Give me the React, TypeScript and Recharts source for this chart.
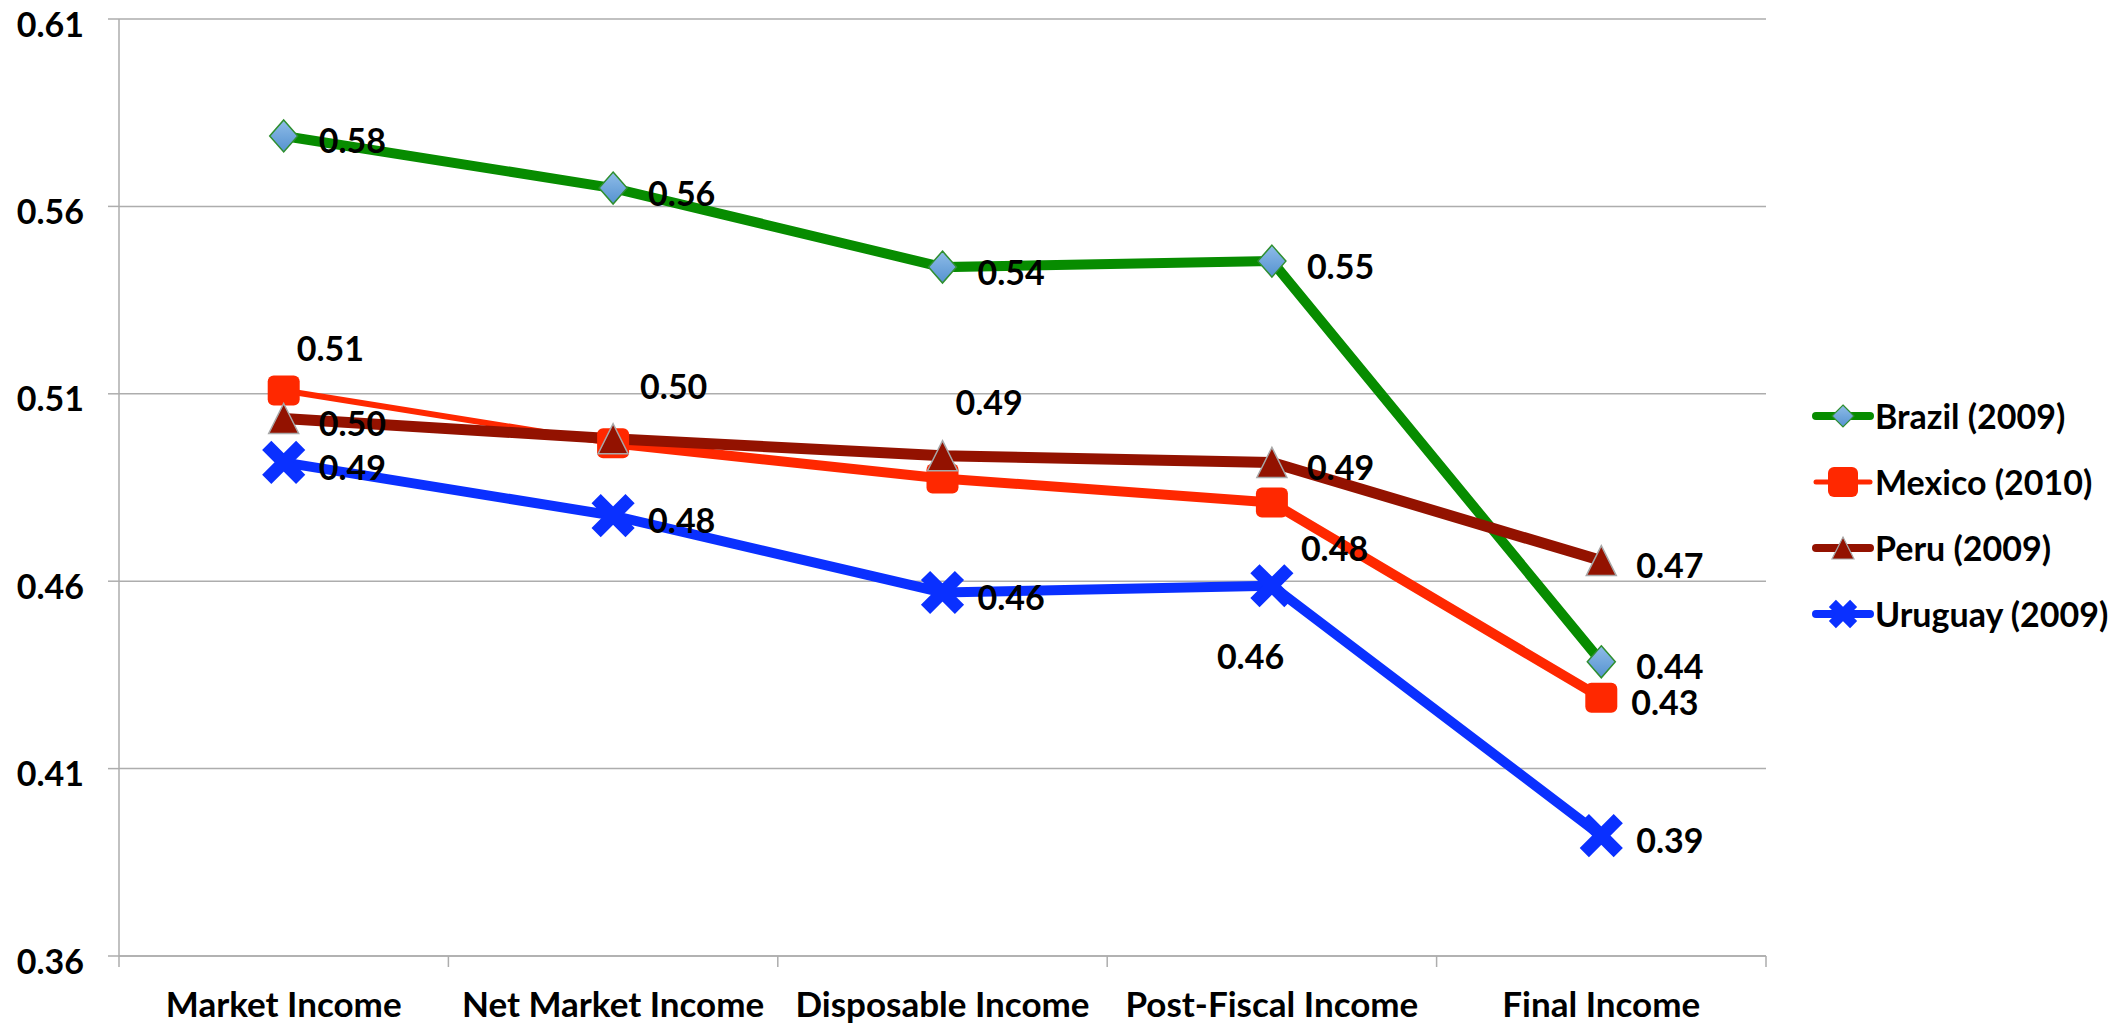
import React from 'react';
import { LineChart, Line, XAxis, YAxis, CartesianGrid, LabelList } from 'recharts';

// ---------- data ----------
const categories = ['Market Income', 'Net Market Income', 'Disposable Income', 'Post-Fiscal Income', 'Final Income'];
const brazil = [0.5788, 0.5649, 0.5438, 0.5454, 0.4385];
const mexico = [0.5109, 0.4968, 0.4874, 0.481, 0.4289];
const peru = [0.5034, 0.498, 0.4935, 0.4917, 0.4655];
const uruguay = [0.4917, 0.4775, 0.457, 0.4588, 0.3921];
const yTicks = [0.36, 0.41, 0.46, 0.51, 0.56, 0.61];
const seriesNames = ['Brazil (2009)', 'Mexico (2010)', 'Peru (2009)', 'Uruguay (2009)'];

// label placement per point (style only)
const brazilLabelPos = ['right', 'right', 'right', 'right', 'right'];
const mexicoLabelPos = ['aboveNear', 'aboveMid', 'aboveFar', 'belowRight', 'rightClose'];
const peruLabelPos = ['right', 'none', 'none', 'right', 'right'];
const uruguayLabelPos = ['right', 'right', 'right', 'belowLeft', 'right'];

// ---------- styles ----------
const W = 2126;
const H = 1025;
const M_TOP = 19;
const M_RIGHT = 360;
const Y_W = 119;
const X_H = 69;
const PLOT_W = W - M_RIGHT - Y_W;
const FONT = 'Lato, "Open Sans", sans-serif';
const GRID = '#ADADAD';
const GREEN = '#078C00';
const RED = '#FF2800';
const DARKRED = '#931200';
const BLUE = '#0A30FF';
const FS = 34;

const OFFSETS: Record<string, [number, number]> = {
  right: [35, 4],
  rightClose: [30, 4],
  aboveNear: [13, -43],
  aboveMid: [27, -58],
  aboveFar: [13, -77],
  belowRight: [29, 45],
  belowLeft: [-55, 70],
};

const data = categories.map((c, i) => ({
  category: c,
  brazil: brazil[i],
  mexico: mexico[i],
  mexicoThick: i >= 1 ? mexico[i] : null,
  peru: peru[i],
  uruguay: uruguay[i],
}));

const makeLabel = (placements: string[]) => (props: any) => {
  const { x, y, value, index } = props;
  const p = placements[index];
  if (!p || p === 'none' || value == null) return null;
  const [dx, dy] = OFFSETS[p];
  return (
    <text
      key={`lbl-${index}`}
      x={Number(x) + dx}
      y={Number(y) + dy}
      dominantBaseline="central"
      textAnchor="start"
      fontFamily={FONT}
      fontWeight={700}
      fontSize={FS}
      fill="#000"
    >
      {Number(value).toFixed(2)}
    </text>
  );
};

const diamondPath = (cx: number, cy: number, hw: number, hh: number) =>
  `M${cx},${cy - hh} L${cx + hw},${cy} L${cx},${cy + hh} L${cx - hw},${cy} Z`;
const trianglePath = (cx: number, cy: number, hw: number, hh: number) =>
  `M${cx},${cy - hh} L${cx + hw},${cy + hh} L${cx - hw},${cy + hh} Z`;
const xPath = (cx: number, cy: number, r: number, t: number) => {
  const pts: string[] = [];
  const arm = (ang: number) => {
    const ca = Math.cos(ang), sa = Math.sin(ang);
    const px = -sa * t, py = ca * t;
    return [
      [cx + ca * r + px, cy + sa * r + py],
      [cx + ca * r - px, cy + sa * r - py],
      [cx - ca * r - px, cy - sa * r - py],
      [cx - ca * r + px, cy - sa * r + py],
    ];
  };
  [Math.PI / 4, -Math.PI / 4].forEach((a) => {
    const q = arm(a);
    pts.push(`M${q[0][0]},${q[0][1]} L${q[1][0]},${q[1][1]} L${q[2][0]},${q[2][1]} L${q[3][0]},${q[3][1]} Z`);
  });
  return pts.join(' ');
};

const DiamondDot = (props: any) => {
  const { cx, cy, index } = props;
  if (cx == null || cy == null) return <g key={`d-${index}`} />;
  return (
    <path key={`d-${index}`} d={diamondPath(cx, cy, 14, 16)} fill="url(#diamondFill)" stroke="#2F8F2F" strokeWidth={1.5} />
  );
};
const SquareDot = (props: any) => {
  const { cx, cy, index } = props;
  if (cx == null || cy == null) return <g key={`s-${index}`} />;
  return <rect key={`s-${index}`} x={cx - 16} y={cy - 15} width={32} height={30} rx={6} ry={6} fill={RED} />;
};
const TriangleDot = (props: any) => {
  const { cx, cy, index } = props;
  if (cx == null || cy == null) return <g key={`t-${index}`} />;
  return <path key={`t-${index}`} d={trianglePath(cx, cy, 15, 15)} fill={DARKRED} stroke="#A8A8A8" strokeWidth={1.5} />;
};
const XDot = (props: any) => {
  const { cx, cy, index } = props;
  if (cx == null || cy == null) return <g key={`x-${index}`} />;
  return <path key={`x-${index}`} d={xPath(cx, cy, 24, 6.5)} fill={BLUE} />;
};

const XTick = (props: any) => {
  const { x, y, payload, index } = props;
  const half = PLOT_W / categories.length / 2;
  const isLast = payload && payload.value === categories[categories.length - 1];
  return (
    <g key={`xt-${index}`}>
      <line x1={x - half} x2={x - half} y1={y} y2={y + 11} stroke={GRID} strokeWidth={1.5} />
      {isLast && <line x1={x + half} x2={x + half} y1={y} y2={y + 11} stroke={GRID} strokeWidth={1.5} />}
      <text
        x={x}
        y={y + 47}
        textAnchor="middle"
        dominantBaseline="central"
        fontFamily={FONT}
        fontWeight={700}
        fontSize={35}
        fill="#000"
      >
        {payload.value}
      </text>
    </g>
  );
};

const YTick = (props: any) => {
  const { x, y, payload, index } = props;
  return (
    <text
      key={`yt-${index}`}
      x={x}
      y={y + 4}
      textAnchor="end"
      dominantBaseline="central"
      fontFamily={FONT}
      fontWeight={700}
      fontSize={FS}
      fill="#000"
    >
      {Number(payload.value).toFixed(2)}
    </text>
  );
};

const legendColors = [GREEN, RED, DARKRED, BLUE];
const LegendIcon = ({ i }: { i: number }) => {
  const c = legendColors[i];
  const cy = 20;
  const cx = 31;
  return (
    <svg width={62} height={40} style={{ display: 'block', overflow: 'visible' }}>
      <defs>
        <linearGradient id={`lgDiamond${i}`} x1="0" y1="0" x2="0" y2="1">
          <stop offset="0%" stopColor="#8FBCE8" />
          <stop offset="100%" stopColor="#5592D0" />
        </linearGradient>
      </defs>
      <line x1={4} x2={58} y1={cy} y2={cy} stroke={c} strokeWidth={i === 1 ? 5 : 8} strokeLinecap="round" />
      {i === 0 && <path d={diamondPath(cx, cy, 11, 11)} fill={`url(#lgDiamond${i})`} stroke="#2F8F2F" strokeWidth={1.2} />}
      {i === 1 && <rect x={cx - 15} y={cy - 15} width={30} height={30} rx={6} fill={RED} />}
      {i === 2 && <path d={trianglePath(cx, cy, 11, 11)} fill={DARKRED} stroke="#A8A8A8" strokeWidth={1.2} />}
      {i === 3 && <path d={xPath(cx, cy, 15, 5)} fill={BLUE} />}
    </svg>
  );
};

export default function App() {
  return (
    <div style={{ position: 'absolute', left: 0, top: 0, width: W, height: H, background: '#fff' }}>
      <LineChart
        width={W}
        height={H}
        data={data}
        margin={{ top: M_TOP, right: M_RIGHT, left: 0, bottom: 0 }}
      >
        <defs>
          <linearGradient id="diamondFill" x1="0" y1="0" x2="0" y2="1">
            <stop offset="0%" stopColor="#8FBCE8" />
            <stop offset="100%" stopColor="#5592D0" />
          </linearGradient>
        </defs>
        <CartesianGrid vertical={false} stroke={GRID} strokeWidth={1.5} />
        <XAxis
          dataKey="category"
          height={X_H}
          padding={{ left: PLOT_W / categories.length / 2, right: PLOT_W / categories.length / 2 }}
          axisLine={{ stroke: GRID, strokeWidth: 1.5 }}
          tickLine={false}
          tickSize={0}
          tickMargin={0}
          interval={0}
          tick={<XTick />}
        />
        <YAxis
          width={Y_W}
          domain={[0.36, 0.61]}
          ticks={yTicks}
          type="number"
          allowDataOverflow
          axisLine={{ stroke: GRID, strokeWidth: 1.5 }}
          tickLine={{ stroke: GRID, strokeWidth: 1.5 }}
          tickSize={11}
          tickMargin={24}
          tick={<YTick />}
        />
        <Line
          type="linear"
          dataKey="brazil"
          name={seriesNames[0]}
          stroke={GREEN}
          strokeWidth={10}
          dot={DiamondDot}
          activeDot={false}
          isAnimationActive={false}
        >
          <LabelList dataKey="brazil" content={makeLabel(brazilLabelPos)} />
        </Line>
        <Line
          type="linear"
          dataKey="mexicoThick"
          stroke={RED}
          strokeWidth={10}
          dot={false}
          activeDot={false}
          legendType="none"
          isAnimationActive={false}
        />
        <Line
          type="linear"
          dataKey="mexico"
          name={seriesNames[1]}
          stroke={RED}
          strokeWidth={6}
          dot={SquareDot}
          activeDot={false}
          isAnimationActive={false}
        >
          <LabelList dataKey="mexico" content={makeLabel(mexicoLabelPos)} />
        </Line>
        <Line
          type="linear"
          dataKey="peru"
          name={seriesNames[2]}
          stroke={DARKRED}
          strokeWidth={11}
          dot={TriangleDot}
          activeDot={false}
          isAnimationActive={false}
        >
          <LabelList dataKey="peru" content={makeLabel(peruLabelPos)} />
        </Line>
        <Line
          type="linear"
          dataKey="uruguay"
          name={seriesNames[3]}
          stroke={BLUE}
          strokeWidth={10}
          dot={XDot}
          activeDot={false}
          isAnimationActive={false}
        >
          <LabelList dataKey="uruguay" content={makeLabel(uruguayLabelPos)} />
        </Line>
      </LineChart>
      {seriesNames.map((name, i) => (
        <div
          key={name}
          style={{
            position: 'absolute',
            left: 1812,
            top: 416 + 66 * i - 20,
            height: 40,
            display: 'flex',
            alignItems: 'center',
            whiteSpace: 'nowrap',
          }}
        >
          <LegendIcon i={i} />
          <span
            style={{
              marginLeft: 1,
              fontFamily: FONT,
              fontWeight: 700,
              fontSize: FS,
              color: '#000',
              lineHeight: '40px',
            }}
          >
            {name}
          </span>
        </div>
      ))}
    </div>
  );
}
